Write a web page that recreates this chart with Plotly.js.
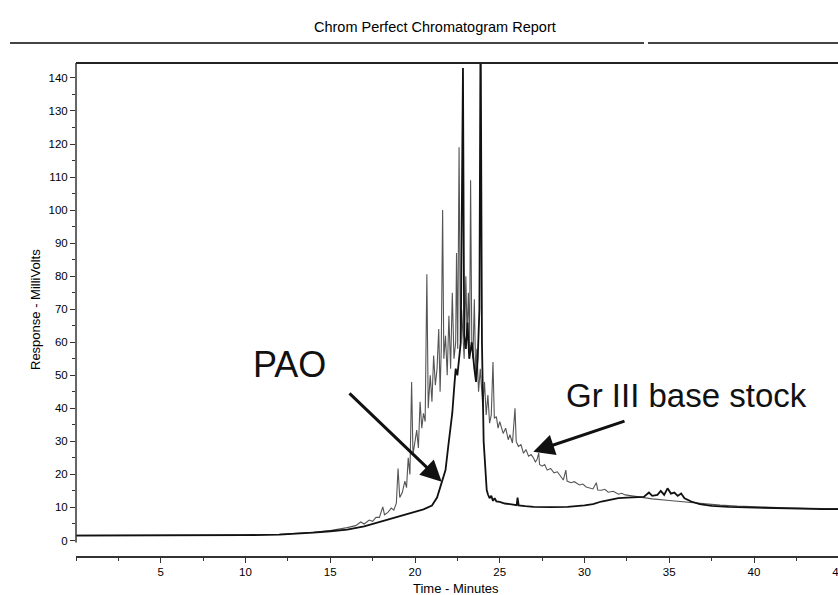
<!DOCTYPE html>
<html>
<head>
<meta charset="utf-8">
<script src="https://cdn.plot.ly/plotly-3.0.1.min.js"></script>
<style>
  html, body { margin: 0; padding: 0; overflow: hidden; background: #fff; }
  #chart { width: 880px; height: 595px; }
</style>
</head>
<body>
<div id="chart"></div>
<script>
// ---- Data ----
// PAO trace (black)
const paoX = [0, 5, 10, 12, 13, 14, 15, 16, 17, 18, 19, 20, 20.5, 21.0, 21.3, 21.5, 21.7, 21.8, 21.96, 22.1, 22.2, 22.3, 22.4, 22.5, 22.6, 22.7, 22.83, 22.9, 23.0, 23.1, 23.2, 23.35, 23.5, 23.6, 23.7, 23.8, 23.87, 23.95, 24.05, 24.13, 24.23, 24.3, 24.4, 24.5, 24.6, 24.7, 24.8, 25.0, 25.3, 25.6, 26.0, 26.05, 26.12, 26.5, 27.0, 28.0, 29.0, 30.0, 30.5, 31.0, 31.5, 32.0, 32.5, 33.0, 33.5, 33.8, 34.0, 34.3, 34.5, 34.7, 34.9, 35.1, 35.3, 35.5, 35.7, 35.9, 36.3, 36.8, 37.5, 38.5, 40.0, 42.0, 44.0, 47.0];
const paoY = [1.5, 1.5, 1.6, 1.8, 2.0, 2.4, 2.8, 3.3, 4.3, 5.8, 7.2, 8.6, 9.4, 10.6, 13, 16.3, 19.5, 21.3, 28.4, 34, 38.6, 45.5, 52, 50, 56, 60, 143, 62, 58, 66, 55, 60, 52, 48, 55, 70, 160, 60, 30, 23.9, 15.3, 14, 12.8, 13.5, 12, 12.8, 11.8, 11.7, 11.2, 11.0, 10.7, 13, 10.6, 10.4, 10.2, 10.1, 10.2, 10.6, 11.0, 11.8, 12.4, 12.8, 13.0, 13.1, 13.2, 14.5, 13.5, 13.8, 15, 13.8, 15.8, 14.2, 14.5, 13.5, 14.2, 12.8, 11.8, 11.0, 10.5, 10.2, 9.9, 9.7, 9.5, 9.4];

// Gr III base stock trace (grey)
const gr3X = [0, 5, 10, 12, 13, 14, 15, 15.5, 16, 16.5, 16.8, 17.0, 17.3, 17.5, 17.7, 17.9, 18.1, 18.2, 18.4, 18.6, 18.75, 18.9, 19.0, 19.1, 19.25, 19.4, 19.5, 19.6, 19.7, 19.8, 19.88, 20.0, 20.1, 20.2, 20.3, 20.4, 20.5, 20.6, 20.7, 20.78, 20.9, 21.0, 21.1, 21.2, 21.3, 21.4, 21.48, 21.55, 21.63, 21.7, 21.8, 21.9, 22.0, 22.1, 22.2, 22.3, 22.4, 22.45, 22.52, 22.6, 22.68, 22.75, 22.9, 23.0, 23.07, 23.15, 23.22, 23.28, 23.35, 23.42, 23.5, 23.58, 23.65, 23.75, 23.85, 24.0, 24.1, 24.2, 24.3, 24.4, 24.5, 24.6, 24.68, 24.8, 24.9, 25.0, 25.2, 25.35, 25.5, 25.6, 25.75, 25.9, 25.97, 26.1, 26.25, 26.4, 26.55, 26.7, 26.85, 27.0, 27.1, 27.2, 27.3, 27.35, 27.5, 27.65, 27.8, 28.0, 28.2, 28.4, 28.6, 28.75, 28.9, 28.97, 29.2, 29.4, 29.7, 29.9, 30.1, 30.3, 30.5, 30.7, 30.78, 31.0, 31.2, 31.4, 31.7, 32.0, 32.2, 32.4, 32.8, 33.0, 33.5, 34.0, 35.0, 36.0, 37.0, 38.0, 39.0, 40.0, 42.0, 44.0, 47.0];
const gr3Y = [1.6, 1.6, 1.7, 1.9, 2.1, 2.5, 3.0, 3.4, 3.9, 4.5, 5.6, 5.0, 6.2, 5.8, 7.0, 7.0, 10.2, 7.8, 8.5, 9.8, 9.2, 11.3, 21.8, 13, 14.5, 18, 16, 25, 20, 48, 26, 30, 33.4, 28, 42, 34, 38.5, 36, 80.6, 40, 50, 42, 56, 47, 52, 64, 45, 58, 100, 55, 62, 50, 68, 52, 75, 55, 60, 87, 58, 119, 60, 70, 55, 80, 62, 75, 58, 109, 60, 55, 73, 50, 58, 45, 52, 40.5, 48, 38, 44, 35.5, 38, 54, 37, 37.5, 34, 36, 32.4, 34, 30.5, 32, 29.5, 40, 30, 28.5, 29, 26.4, 27.5, 25.5, 26, 24.9, 23.8, 24.5, 26.5, 23, 22.5, 23, 21.3, 21.8, 20.5, 20.8, 19.2, 18.3, 21.3, 18, 17.5, 17.8, 16.8, 17.1, 16.2, 16.0, 15.6, 17.5, 15.3, 15.2, 15.5, 14.6, 14.9, 14.0, 14.3, 13.8, 13.5, 13.2, 12.9, 12.6, 12.1, 11.6, 11.1, 10.7, 10.4, 10.2, 9.9, 9.7, 9.5];

const xTickVals = [5, 10, 15, 20, 25, 30, 35, 40, 45];
const yTickVals = [0, 10, 20, 30, 40, 50, 60, 70, 80, 90, 100, 110, 120, 130, 140];

const chartTitle = 'Chrom Perfect Chromatogram Report';
const xTitle = 'Time - Minutes';
const yTitle = 'Response - MilliVolts';
const labelPAO = 'PAO';
const labelGr3 = 'Gr III base stock';

// ---- Layout geometry ----
const W = 880, H = 595;
const mL = 76, mR = 7, mT = 63, mB = 39;
const plotW = W - mL - mR;   // 797
const plotH = H - mT - mB;   // 493
const pxPerMin = 16.95;
const pxPerUnit = 3.304;
const xMax = plotW / pxPerMin;
const yMin = -(556 - 540.5) / pxPerUnit;
const yMax = yMin + plotH / pxPerUnit;

function px2paperX(px) { return (px - mL) / plotW; }
function px2paperY(py) { return (H - mB - py) / plotH; }

const traces = [
  { x: gr3X, y: gr3Y, type: 'scatter', mode: 'lines',
    line: { color: '#555', width: 1.1 }, hoverinfo: 'skip', showlegend: false },
  { x: paoX, y: paoY, type: 'scatter', mode: 'lines',
    line: { color: '#111', width: 1.8 }, hoverinfo: 'skip', showlegend: false }
];

const tickFont = { family: 'Liberation Sans, Arial, sans-serif', size: 11.5, color: '#000' };

const layout = {
  width: W, height: H,
  margin: { l: mL, r: mR, t: mT, b: mB, pad: 0 },
  paper_bgcolor: '#fff', plot_bgcolor: '#fff',
  showlegend: false,
  xaxis: {
    range: [0, xMax], showgrid: false, zeroline: false,
    showline: true, linecolor: '#333', linewidth: 1.5,
    tickmode: 'array', tickvals: xTickVals, ticktext: xTickVals.map(String),
    ticks: 'outside', ticklen: 5, tickwidth: 1, tickcolor: '#333',
    minor: { ticks: 'outside', ticklen: 3, dtick: 2.5, tick0: 0, tickcolor: '#333', tickwidth: 1, showgrid: false },
    tickfont: tickFont, automargin: false
  },
  yaxis: {
    range: [yMin, yMax], showgrid: false, zeroline: false, showline: false,
    tickmode: 'array', tickvals: yTickVals, ticktext: yTickVals.map(String),
    ticks: 'outside', ticklen: 5, tickwidth: 1, tickcolor: '#333',
    minor: { ticks: 'outside', ticklen: 3, dtick: 5, tick0: 0, tickcolor: '#333', tickwidth: 1, showgrid: false },
    tickfont: tickFont, automargin: false
  },
  shapes: [
    // y axis line
    { type: 'line', xref: 'paper', yref: 'y', x0: 0, x1: 0, y0: -0.6, y1: yMax, line: { color: '#333', width: 1.5 } },
    // top frame line
    { type: 'line', xref: 'paper', yref: 'paper', x0: 0, x1: 1, y0: 1, y1: 1, line: { color: '#222', width: 2 } },
    // report header rule (with small gap)
    { type: 'line', xref: 'paper', yref: 'paper', x0: px2paperX(10), x1: px2paperX(644), y0: px2paperY(43), y1: px2paperY(43), line: { color: '#444', width: 2 } },
    { type: 'line', xref: 'paper', yref: 'paper', x0: px2paperX(648), x1: 1, y0: px2paperY(43), y1: px2paperY(43), line: { color: '#444', width: 2 } }
  ],
  annotations: [
    { text: chartTitle, xref: 'paper', yref: 'paper', x: px2paperX(435), y: px2paperY(27),
      showarrow: false, xanchor: 'center', yanchor: 'middle',
      font: { family: 'Liberation Sans Narrow, Arial Narrow, Arial, sans-serif', size: 14.5, color: '#000' } },
    { text: xTitle, xref: 'paper', yref: 'paper', x: px2paperX(456), y: px2paperY(588),
      showarrow: false, xanchor: 'center', yanchor: 'middle',
      font: { family: 'Liberation Sans Narrow, Arial Narrow, Arial, sans-serif', size: 13, color: '#000' } },
    { text: yTitle, xref: 'paper', yref: 'paper', x: px2paperX(35), y: px2paperY(310),
      showarrow: false, textangle: -90, xanchor: 'center', yanchor: 'middle',
      font: { family: 'Liberation Sans Narrow, Arial Narrow, Arial, sans-serif', size: 13, color: '#000' } },
    { text: labelPAO, xref: 'x', yref: 'y', x: (289 - mL) / pxPerMin, y: (540.5 - 364) / pxPerUnit,
      showarrow: false, xanchor: 'center', yanchor: 'middle',
      font: { family: 'Liberation Sans, Arial, sans-serif', size: 36, color: '#111' } },
    { text: labelGr3, xref: 'x', yref: 'y', x: (686 - mL) / pxPerMin, y: (540.5 - 395) / pxPerUnit,
      showarrow: false, xanchor: 'center', yanchor: 'middle',
      font: { family: 'Liberation Sans, Arial, sans-serif', size: 33, color: '#111' } },
    // arrows
    { text: '', xref: 'x', yref: 'y', x: (441.7 - mL) / pxPerMin, y: (540.5 - 481.7) / pxPerUnit,
      showarrow: true, ax: 348 - 441.7, ay: 392 - 481.7, axref: 'pixel', ayref: 'pixel',
      arrowhead: 2, arrowsize: 1.4, arrowwidth: 3, arrowcolor: '#111', standoff: 0 },
    { text: '', xref: 'x', yref: 'y', x: (533.3 - mL) / pxPerMin, y: (540.5 - 451.7) / pxPerUnit,
      showarrow: true, ax: 626 - 533.3, ay: 420.7 - 451.7, axref: 'pixel', ayref: 'pixel',
      arrowhead: 2, arrowsize: 1.4, arrowwidth: 3, arrowcolor: '#111', standoff: 0 }
  ]
};

Plotly.newPlot('chart', traces, layout, { staticPlot: true, displayModeBar: false });
</script>
</body>
</html>
